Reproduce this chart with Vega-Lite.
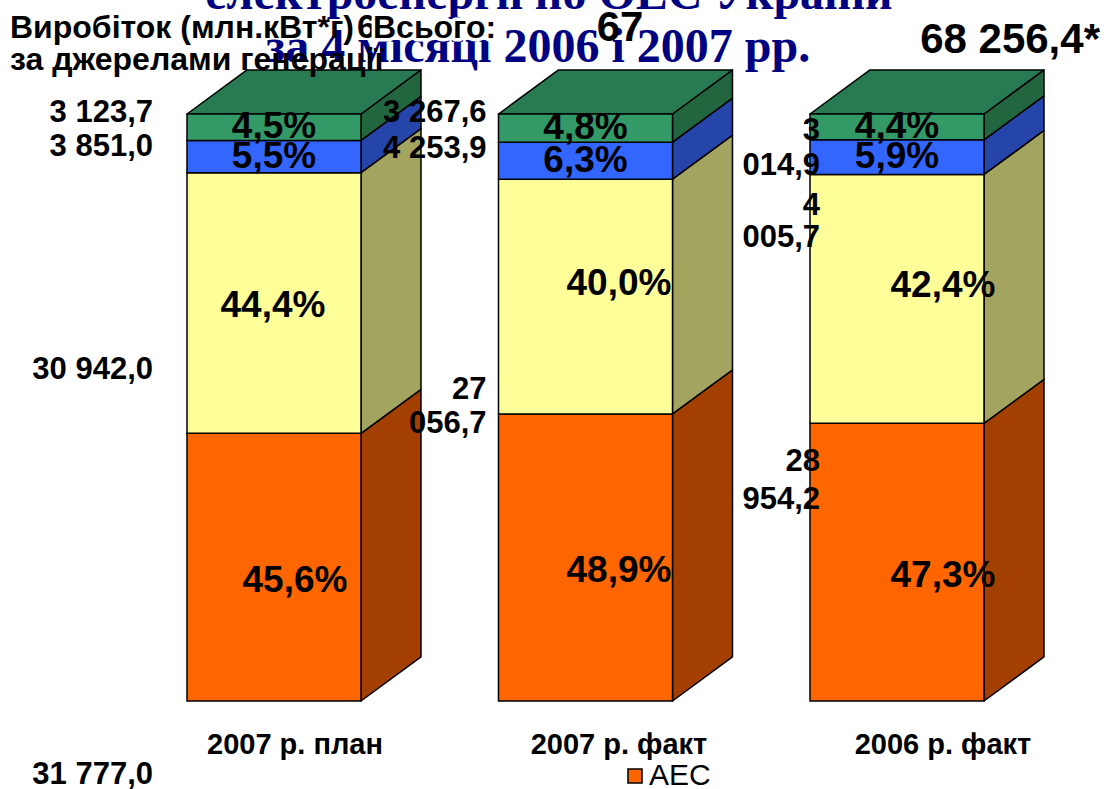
{
  "$schema": "https://vega.github.io/schema/vega-lite/v6.json",
  "width": 1114,
  "height": 789,
  "padding": 0,
  "autosize": {"type": "none"},
  "background": "white",
  "config": {
    "view": {"stroke": null},
    "font": "Liberation Sans",
    "locale": {"number": {"decimal": ",", "thousands": " ", "grouping": [3], "currency": ["", ""]}}
  },
  "datasets": {
    "gen": [
      {"period": "2007 р. план", "source": "АЕС", "value": 31777.0, "share": 0.456},
      {"period": "2007 р. план", "source": "ТЕС", "value": 30942.0, "share": 0.444},
      {"period": "2007 р. план", "source": "ГЕС", "value": 3851.0, "share": 0.055},
      {"period": "2007 р. план", "source": "Блок-станції", "value": 3123.7, "share": 0.045},
      {"period": "2007 р. факт", "source": "АЕС", "value": 33121.8, "share": 0.489},
      {"period": "2007 р. факт", "source": "ТЕС", "value": 27056.7, "share": 0.400},
      {"period": "2007 р. факт", "source": "ГЕС", "value": 4253.9, "share": 0.063},
      {"period": "2007 р. факт", "source": "Блок-станції", "value": 3267.6, "share": 0.048},
      {"period": "2006 р. факт", "source": "АЕС", "value": 32281.6, "share": 0.473},
      {"period": "2006 р. факт", "source": "ТЕС", "value": 28954.2, "share": 0.424},
      {"period": "2006 р. факт", "source": "ГЕС", "value": 4005.7, "share": 0.059},
      {"period": "2006 р. факт", "source": "Блок-станції", "value": 3014.9, "share": 0.044}
    ]
  },
  "data": {"name": "gen"},
  "transform": [
    {"calculate": "indexof(['2007 р. план','2007 р. факт','2006 р. факт'], datum.period)", "as": "idx"},
    {"calculate": "indexof(['АЕС','ТЕС','ГЕС','Блок-станції'], datum.source)", "as": "ord"},
    {"stack": "share", "groupby": ["period"], "sort": [{"field": "ord", "order": "ascending"}], "as": ["y0", "y1"]},
    {"calculate": "(datum.y0 + datum.y1) / 2", "as": "ym"}
  ],
  "layer": [
    {
      "layer": [
        {
          "transform": [
            {"calculate": "datum.idx + 0.2793", "as": "xfront"},
            {"calculate": "datum.idx + 0.4719", "as": "xback"},
            {"fold": ["xfront", "xback"], "as": ["edge", "sx"]},
            {"calculate": "datum.edge == 'xback' ? 0.075 : 0", "as": "lift"},
            {"calculate": "datum.y0 + datum.lift", "as": "sy0"},
            {"calculate": "datum.y1 + datum.lift", "as": "sy1"}
          ],
          "encoding": {
            "x": {"field": "sx", "type": "quantitative", "scale": {"domain": [-0.87961, 2.69663], "nice": false, "zero": false}, "axis": null},
            "y": {"field": "sy0", "type": "quantitative", "stack": null, "scale": {"domain": [-0.14991, 1.19421], "nice": false, "zero": false}, "axis": null},
            "y2": {"field": "sy1"},
            "detail": {"field": "period"}
          },
          "layer": [
            {"transform": [{"filter": "datum.ord == 0"}], "mark": {"type": "area", "orient": "vertical", "fill": "#A33F00", "stroke": "black", "strokeWidth": 1.5, "strokeJoin": "round"}},
            {"transform": [{"filter": "datum.ord == 1"}], "mark": {"type": "area", "orient": "vertical", "fill": "#A4A461", "stroke": "black", "strokeWidth": 1.5, "strokeJoin": "round"}},
            {"transform": [{"filter": "datum.ord == 2"}], "mark": {"type": "area", "orient": "vertical", "fill": "#2645AA", "stroke": "black", "strokeWidth": 1.5, "strokeJoin": "round"}},
            {"transform": [{"filter": "datum.ord == 3"}], "mark": {"type": "area", "orient": "vertical", "fill": "#22663F", "stroke": "black", "strokeWidth": 1.5, "strokeJoin": "round"}}
          ]
        },
        {
          "transform": [
            {"filter": "datum.ord == 3"},
            {"calculate": "datum.y1 + 0.075", "as": "yb"},
            {"fold": ["y1", "yb"], "as": ["edge", "ty"]},
            {"calculate": "datum.idx - 0.2793 + (datum.edge == 'yb' ? 0.1926 : 0)", "as": "tx0"},
            {"calculate": "datum.tx0 + 0.5586", "as": "tx1"}
          ],
          "mark": {"type": "area", "orient": "horizontal", "fill": "#287A52", "stroke": "black", "strokeWidth": 1.5, "strokeJoin": "round"},
          "encoding": {
            "y": {"field": "ty", "type": "quantitative", "stack": null, "scale": {"domain": [-0.14991, 1.19421], "nice": false, "zero": false}, "axis": null},
            "x": {"field": "tx0", "type": "quantitative", "scale": {"domain": [-0.87961, 2.69663], "nice": false, "zero": false}, "axis": null},
            "x2": {"field": "tx1"},
            "detail": {"field": "period"}
          }
        },
        {
          "transform": [
            {"calculate": "datum.idx - 0.2793", "as": "xl"},
            {"calculate": "datum.idx + 0.2793", "as": "xr"}
          ],
          "mark": {"type": "rect", "stroke": "black", "strokeWidth": 1.5},
          "encoding": {
            "x": {"field": "xl", "type": "quantitative", "scale": {"domain": [-0.87961, 2.69663], "nice": false, "zero": false}, "axis": null},
            "x2": {"field": "xr"},
            "y": {"field": "y0", "type": "quantitative", "scale": {"domain": [-0.14991, 1.19421], "nice": false, "zero": false}, "axis": null},
            "y2": {"field": "y1"},
            "color": {"field": "source", "type": "nominal",
              "scale": {"domain": ["АЕС", "ТЕС", "ГЕС", "Блок-станції"], "range": ["#FF6600", "#FFFF99", "#3366FF", "#339966"]},
              "legend": {"orient": "none", "legendX": 620, "legendY": 761, "direction": "vertical", "title": null,
                "symbolType": "square", "symbolSize": 196, "symbolStrokeColor": "black", "symbolStrokeWidth": 1.5,
                "labelFontSize": 30, "labelFont": "Liberation Sans", "labelColor": "black", "labelOffset": -1, "rowPadding": 8}}
          }
        },
        {
          "transform": [{"filter": "datum.ord >= 2"}],
          "mark": {"type": "text", "fontSize": 37, "fontWeight": "bold", "color": "black", "baseline": "middle", "align": "center"},
          "encoding": {
            "x": {"field": "idx", "type": "quantitative", "scale": {"domain": [-0.87961, 2.69663], "nice": false, "zero": false}, "axis": null},
            "y": {"field": "ym", "type": "quantitative", "scale": {"domain": [-0.14991, 1.19421], "nice": false, "zero": false}, "axis": null},
            "text": {"field": "share", "type": "quantitative", "format": ".1%"}
          }
        },
        {
          "transform": [{"filter": "datum.idx == 0 && datum.ord == 0"}],
          "layer": [
            {
              "mark": {"type": "text", "font": "Liberation Serif", "fontSize": 48, "fontWeight": "bold", "color": "#000080", "align": "center", "baseline": "alphabetic", "text": "електроенергії по ОЕС України"},
              "encoding": {"x": {"datum": 0.88283, "type": "quantitative"}, "y": {"datum": 1.17888, "type": "quantitative"}}
            },
            {
              "mark": {"type": "text", "font": "Liberation Serif", "fontSize": 48, "fontWeight": "bold", "color": "#000080", "align": "center", "baseline": "alphabetic", "text": "за 4 місяці 2006 і 2007 рр."},
              "encoding": {"x": {"datum": 0.84751, "type": "quantitative"}, "y": {"datum": 1.08859, "type": "quantitative"}}
            },
            {
              "mark": {"type": "text", "fontSize": 32, "fontWeight": "bold", "color": "black", "align": "left", "baseline": "middle", "text": "Виробіток (млн.кВт*г)"},
              "encoding": {"x": {"datum": -0.84751, "type": "quantitative"}, "y": {"datum": 1.14651, "type": "quantitative"}}
            },
            {
              "mark": {"type": "text", "fontSize": 32, "fontWeight": "bold", "color": "black", "align": "left", "baseline": "middle", "text": "за джерелами генерації"},
              "encoding": {"x": {"datum": -0.84751, "type": "quantitative"}, "y": {"datum": 1.09199, "type": "quantitative"}}
            },
            {
              "mark": {"type": "text", "fontSize": 34, "fontWeight": "bold", "color": "black", "align": "center", "baseline": "middle", "text": "69"},
              "encoding": {"x": {"datum": 0.32745, "type": "quantitative"}, "y": {"datum": 1.14651, "type": "quantitative"}}
            },
            {
              "mark": {"type": "text", "fontSize": 32, "fontWeight": "bold", "color": "white", "stroke": "white", "strokeWidth": 7, "strokeJoin": "round", "align": "left", "baseline": "middle", "text": "Всього:"},
              "encoding": {"x": {"datum": 0.31782, "type": "quantitative"}, "y": {"datum": 1.14651, "type": "quantitative"}}
            },
            {
              "mark": {"type": "text", "fontSize": 32, "fontWeight": "bold", "color": "black", "align": "left", "baseline": "middle", "text": "Всього:"},
              "encoding": {"x": {"datum": 0.31782, "type": "quantitative"}, "y": {"datum": 1.14651, "type": "quantitative"}}
            },
            {
              "mark": {"type": "text", "fontSize": 42, "fontWeight": "bold", "color": "black", "align": "center", "baseline": "middle", "text": "67"},
              "encoding": {"x": {"datum": 1.11075, "type": "quantitative"}, "y": {"datum": 1.14651, "type": "quantitative"}}
            },
            {
              "mark": {"type": "text", "fontSize": 42, "fontWeight": "bold", "color": "black", "align": "right", "baseline": "middle", "text": "68 256,4*"},
              "encoding": {"x": {"datum": 2.65169, "type": "quantitative"}, "y": {"datum": 1.12606, "type": "quantitative"}}
            }
          ]
        }
      ]
    },
    {
      "layer": [
        {
          "transform": [{"filter": "datum.ord == 0"}],
          "mark": {"type": "text", "fontSize": 37, "fontWeight": "bold", "color": "black", "baseline": "middle", "align": "center", "dy": 14},
          "encoding": {
            "x": {"field": "idx", "type": "quantitative", "scale": {"domain": [-0.91049, 2.52778], "nice": false, "zero": false}, "axis": null},
            "y": {"field": "ym", "type": "quantitative"},
            "text": {"field": "share", "type": "quantitative", "format": ".1%"}
          }
        },
        {
          "transform": [{"filter": "datum.ord == 1 && datum.idx >= 1"}],
          "mark": {"type": "text", "fontSize": 37, "fontWeight": "bold", "color": "black", "baseline": "middle", "align": "center", "dy": -13},
          "encoding": {
            "x": {"field": "idx", "type": "quantitative", "scale": {"domain": [-0.91049, 2.52778], "nice": false, "zero": false}, "axis": null},
            "y": {"field": "ym", "type": "quantitative"},
            "text": {"field": "share", "type": "quantitative", "format": ".1%"}
          }
        },
        {
          "transform": [{"filter": "datum.ord == 1 && datum.idx == 0"}],
          "mark": {"type": "text", "fontSize": 37, "fontWeight": "bold", "color": "black", "baseline": "middle", "align": "center", "dx": -22, "dy": 3},
          "encoding": {
            "x": {"field": "idx", "type": "quantitative", "scale": {"domain": [-0.91049, 2.52778], "nice": false, "zero": false}, "axis": null},
            "y": {"field": "ym", "type": "quantitative"},
            "text": {"field": "share", "type": "quantitative", "format": ".1%"}
          }
        },
        {
          "transform": [{"filter": "datum.ord == 0"}],
          "mark": {"type": "text", "fontSize": 29, "fontWeight": "bold", "color": "black", "baseline": "middle", "align": "center"},
          "encoding": {
            "x": {"field": "idx", "type": "quantitative", "scale": {"domain": [-0.91049, 2.52778], "nice": false, "zero": false}, "axis": null},
            "y": {"datum": -0.075, "type": "quantitative"},
            "text": {"field": "period", "type": "nominal"}
          }
        }
      ]
    },
    {
      "layer": [
        {
          "transform": [{"filter": "datum.idx <= 1 && datum.ord == 3"}],
          "mark": {"type": "text", "fontSize": 31, "fontWeight": "bold", "color": "black", "baseline": "middle", "align": "right", "dy": -1},
          "encoding": {
            "x": {"field": "idx", "type": "quantitative", "scale": {"domain": [-0.45877, 2.88156], "nice": false, "zero": false}, "axis": null},
            "y": {"field": "y1", "type": "quantitative"},
            "text": {"field": "value", "type": "quantitative", "format": ",.1f"}
          }
        },
        {
          "transform": [{"filter": "datum.idx <= 1 && datum.ord == 2"}],
          "mark": {"type": "text", "fontSize": 31, "fontWeight": "bold", "color": "black", "baseline": "middle", "align": "right", "dy": 7},
          "encoding": {
            "x": {"field": "idx", "type": "quantitative", "scale": {"domain": [-0.45877, 2.88156], "nice": false, "zero": false}, "axis": null},
            "y": {"field": "y1", "type": "quantitative"},
            "text": {"field": "value", "type": "quantitative", "format": ",.1f"}
          }
        },
        {
          "transform": [{"filter": "datum.idx == 0 && datum.ord == 1"}],
          "mark": {"type": "text", "fontSize": 31, "fontWeight": "bold", "color": "black", "baseline": "middle", "align": "right", "dy": 67},
          "encoding": {
            "x": {"field": "idx", "type": "quantitative", "scale": {"domain": [-0.45877, 2.88156], "nice": false, "zero": false}, "axis": null},
            "y": {"field": "ym", "type": "quantitative"},
            "text": {"field": "value", "type": "quantitative", "format": ",.1f"}
          }
        },
        {
          "transform": [{"filter": "datum.idx == 0 && datum.ord == 0"}],
          "mark": {"type": "text", "fontSize": 31, "fontWeight": "bold", "color": "black", "baseline": "middle", "align": "right", "dy": 74},
          "encoding": {
            "x": {"field": "idx", "type": "quantitative", "scale": {"domain": [-0.45877, 2.88156], "nice": false, "zero": false}, "axis": null},
            "y": {"field": "y0", "type": "quantitative"},
            "text": {"field": "value", "type": "quantitative", "format": ",.1f"}
          }
        },
        {
          "transform": [{"filter": "datum.idx == 1 && datum.ord == 1"}],
          "mark": {"type": "text", "fontSize": 31, "fontWeight": "bold", "color": "black", "baseline": "middle", "align": "right", "dy": 93, "lineBreak": " ", "lineHeight": 34},
          "encoding": {
            "x": {"field": "idx", "type": "quantitative", "scale": {"domain": [-0.45877, 2.88156], "nice": false, "zero": false}, "axis": null},
            "y": {"field": "ym", "type": "quantitative"},
            "text": {"field": "value", "type": "quantitative", "format": ",.1f"}
          }
        },
        {
          "transform": [{"filter": "datum.idx == 2 && datum.ord == 3"}],
          "mark": {"type": "text", "fontSize": 31, "fontWeight": "bold", "color": "black", "baseline": "middle", "align": "right", "dy": 17, "lineBreak": " ", "lineHeight": 35},
          "encoding": {
            "x": {"field": "idx", "type": "quantitative", "scale": {"domain": [-0.45877, 2.88156], "nice": false, "zero": false}, "axis": null},
            "y": {"field": "y1", "type": "quantitative"},
            "text": {"field": "value", "type": "quantitative", "format": ",.1f"}
          }
        },
        {
          "transform": [{"filter": "datum.idx == 2 && datum.ord == 2"}],
          "mark": {"type": "text", "fontSize": 31, "fontWeight": "bold", "color": "black", "baseline": "middle", "align": "right", "dy": 66, "lineBreak": " ", "lineHeight": 32},
          "encoding": {
            "x": {"field": "idx", "type": "quantitative", "scale": {"domain": [-0.45877, 2.88156], "nice": false, "zero": false}, "axis": null},
            "y": {"field": "y1", "type": "quantitative"},
            "text": {"field": "value", "type": "quantitative", "format": ",.1f"}
          }
        },
        {
          "transform": [{"filter": "datum.idx == 2 && datum.ord == 1"}],
          "mark": {"type": "text", "fontSize": 31, "fontWeight": "bold", "color": "black", "baseline": "middle", "align": "right", "dy": 163, "lineBreak": " ", "lineHeight": 38},
          "encoding": {
            "x": {"field": "idx", "type": "quantitative", "scale": {"domain": [-0.45877, 2.88156], "nice": false, "zero": false}, "axis": null},
            "y": {"field": "ym", "type": "quantitative"},
            "text": {"field": "value", "type": "quantitative", "format": ",.1f"}
          }
        }
      ]
    }
  ],
  "resolve": {"scale": {"x": "independent"}}
}
